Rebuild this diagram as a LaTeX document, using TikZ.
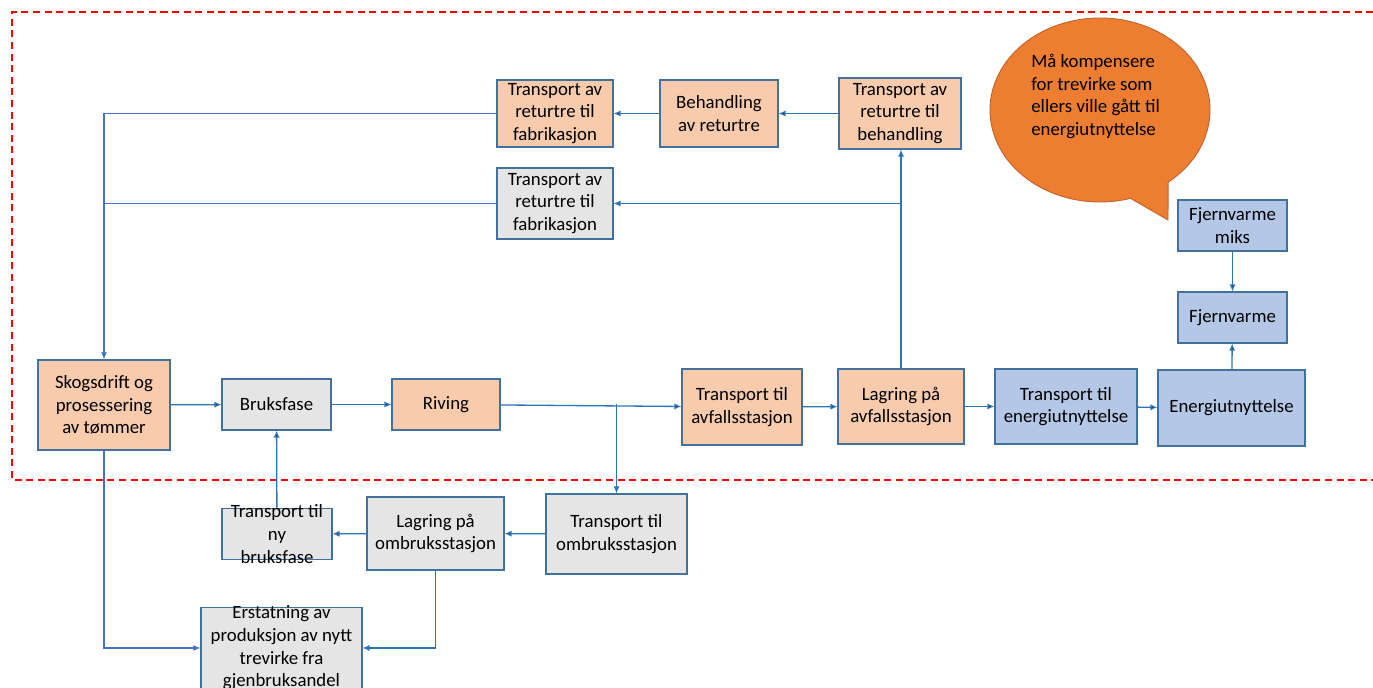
\documentclass[tikz,border=0pt]{standalone}
\usepackage{fontspec}
\setmainfont{Carlito}
\usepackage{tikz}
\usetikzlibrary{arrows.meta,positioning}

\definecolor{orangefill}{HTML}{F8CBAD}
\definecolor{grayfill}{HTML}{E5E5E5}
\definecolor{bluefill}{HTML}{B4C7E7}
\definecolor{boxline}{HTML}{41719C}
\definecolor{linkdark}{HTML}{2E75B6}
\definecolor{linklight}{HTML}{4472C4}
\definecolor{bubblefill}{HTML}{ED7D31}
\definecolor{bubbleline}{HTML}{C0622A}

\begin{document}
\begin{tikzpicture}[x=0.02cm,y=-0.02cm,>={Latex[length=4pt,width=3.5pt]}]
\tikzstyle{box}=[rectangle,draw=boxline,line width=0.6pt,
inner sep=1pt,align=center,
font=\fontsize{10.7}{12.9}\selectfont]
\tikzstyle{orangebox}=[box,fill=orangefill]
\tikzstyle{graybox}=[box,fill=grayfill]
\tikzstyle{bluebox}=[box,fill=bluefill]
\tikzstyle{link}=[draw=linkdark,line width=0.75pt]
\tikzstyle{linkB}=[draw=linklight,line width=0.75pt]
\useasboundingbox (0,0) rectangle (1373,688);

% system boundary
\draw[red,line width=1.3pt,dash pattern=on 4pt off 2.6pt] (1390,480) -- (12,480) -- (12,12) -- (1390,12);

% main row
\node[orangebox,minimum width=132*0.02cm,minimum height=90*0.02cm] at (104,405) (skog) {Skogsdrift og\\prosessering\\av tømmer};
\node[graybox,minimum width=109*0.02cm,minimum height=51*0.02cm] at (276.5,404.5) (bruks) {Bruksfase};
\node[orangebox,minimum width=108*0.02cm,minimum height=51*0.02cm] at (446,404.5) (riving) {Riving};
\node[orangebox,minimum width=120*0.02cm,minimum height=76*0.02cm] at (742,407) (tavf) {Transport til\\avfallsstasjon};
\node[orangebox,minimum width=126*0.02cm,minimum height=75*0.02cm] at (901,406.5) (lavf) {Lagring på\\avfallsstasjon};
\node[bluebox,minimum width=142*0.02cm,minimum height=75*0.02cm] at (1066,406.5) (tenergi) {Transport til\\energiutnyttelse};
\node[bluebox,minimum width=147*0.02cm,minimum height=76*0.02cm] at (1231.5,408) (energi) {Energiutnyttelse};
\node[bluebox,minimum width=109*0.02cm,minimum height=51*0.02cm] at (1232.5,317.5) (fjern) {Fjernvarme};
\node[bluebox,minimum width=109*0.02cm,minimum height=51*0.02cm] at (1232.5,225.5) (fjernmiks) {Fjernvarme\\miks};

% return wood
\node[orangebox,minimum width=122*0.02cm,minimum height=71*0.02cm] at (900,113.5) (tbeh) {Transport av\\returtre til\\behandling};
\node[orangebox,minimum width=118*0.02cm,minimum height=67*0.02cm] at (719,113.5) (beh) {Behandling\\av returtre};
\node[orangebox,minimum width=116*0.02cm,minimum height=67*0.02cm] at (555,113.5) (tfab1) {Transport av\\returtre til\\fabrikasjon};
\node[graybox,minimum width=116*0.02cm,minimum height=71*0.02cm] at (555,203.5) (tfab2) {Transport av\\returtre til\\fabrikasjon};

% reuse
\node[graybox,minimum width=141*0.02cm,minimum height=80*0.02cm] at (616.5,534) (tomb) {Transport til\\ombruksstasjon};
\node[graybox,minimum width=137*0.02cm,minimum height=73*0.02cm] at (435.5,533.5) (lomb) {Lagring på\\ombruksstasjon};
\node[graybox,minimum width=110*0.02cm,inner ysep=-2pt] at (277,534) (tny) {Transport til\\ny\\bruksfase};
\node[graybox,minimum width=161*0.02cm,inner ysep=-1pt] at (281.5,648) (erst) {Erstatning av\\produksjon av nytt\\trevirke fra\\gjenbruksandel};

% speech bubble
\draw[fill=bubblefill,draw=bubbleline,line width=0.5pt]
  (1100,110) ++(73.9:110 and 92) arc[start angle=73.9,end angle=411.7,x radius=110,y radius=92]
  -- (1168,220) -- cycle;
\node[anchor=west,inner sep=0pt,align=left,font=\fontsize{10.7}{12.9}\selectfont] at (1031,96.5) (note)
  {Må kompensere\\for trevirke som\\ellers ville gått til\\energiutnyttelse};

% connections
\path[->,link] (skog) edge (bruks);
\path[->,link] (bruks) edge (riving);
\path[->,link] (riving) edge (tavf);
\path[->,link] (tavf) edge (lavf);
\path[->,link] (lavf) edge (tenergi);
\path[->,link] (tenergi) edge (energi);
\path[->,link] (energi) edge (fjern);
\path[->,link] (fjernmiks) edge (fjern);
\path[->,link] (tbeh) edge (beh);
\path[->,link] (beh) edge (tfab1);
\draw[->,link] (lavf.north) -- (lavf.north |- tbeh.south);
\draw[->,link] (lavf.north |- tfab2.east) -- (tfab2.east);
\draw[->,linkB] (tfab1.west) -| (skog.north);
\draw[linkB] (tfab2.west) -- (tfab2.west -| skog.north);
\draw[->,link] (tomb.north |- riving.east) -- (tomb.north);
\path[->,link] (tomb) edge (lomb);
\path[->,link] (lomb) edge (tny);
\path[->,link] (tny) edge (bruks);
\draw[->,linkB] (skog.south) |- (erst.west);
\draw[->,link] (lomb.south) |- (erst.east);

\end{tikzpicture}
\end{document}
